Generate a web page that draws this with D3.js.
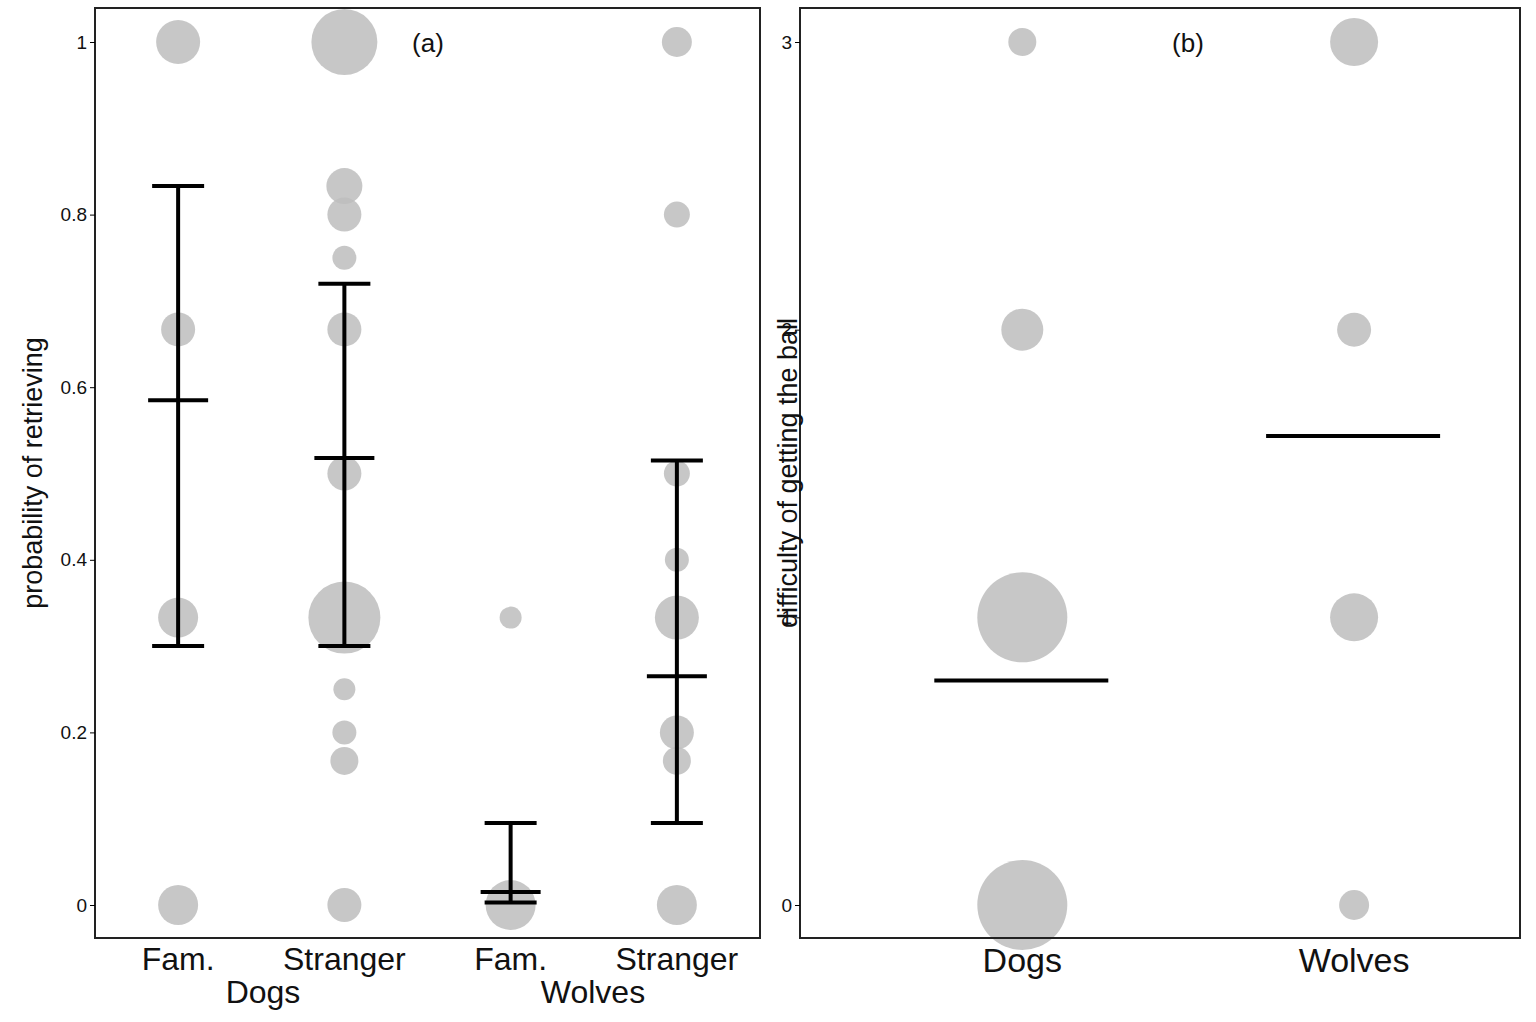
<!DOCTYPE html>
<html><head><meta charset="utf-8">
<script src="https://cdn.jsdelivr.net/npm/d3@7"></script>
<style>body{margin:0;background:#fff}text{font-family:"Liberation Sans",Arial,sans-serif;fill:#111}</style>
</head><body><svg id="c" width="1536" height="1022"></svg>
<script>
// Panel (a)
const catsA = ["DogFam","DogStr","WolfFam","WolfStr"];
const tickLabelsA = ["Fam.","Stranger","Fam.","Stranger"];
const groupLabelsA = ["Dogs","Wolves"];
const pointsA = [
 ["DogFam",1,22],["DogFam",0.667,17],["DogFam",0.333,20],["DogFam",0,20],
 ["DogStr",1,33],["DogStr",0.833,18],["DogStr",0.8,17],["DogStr",0.75,12],["DogStr",0.667,17],["DogStr",0.5,17],["DogStr",0.333,36],["DogStr",0.25,11],["DogStr",0.2,12],["DogStr",0.167,14],["DogStr",0,17],
 ["WolfFam",0.333,11],["WolfFam",0,25],
 ["WolfStr",1,15],["WolfStr",0.8,13],["WolfStr",0.5,13],["WolfStr",0.4,12],["WolfStr",0.333,22],["WolfStr",0.2,17],["WolfStr",0.167,14],["WolfStr",0,20]
];
const meansA = [0.585,0.518,0.015,0.265];
const lowA = [0.30,0.30,0.003,0.095];
const highA = [0.833,0.72,0.095,0.515];
const ticksA = [0,0.2,0.4,0.6,0.8,1];
// Panel (b)
const catsB = ["Dogs","Wolves"];
const pointsB = [["Dogs",3,14],["Dogs",2,21],["Dogs",1,45],["Dogs",0,45],
 ["Wolves",3,24],["Wolves",2,17],["Wolves",1,24],["Wolves",0,15]];
const meansB = [0.78,1.63];
const ticksB = [0,1,2,3];

const svg = d3.select("#c");
const plotTop=8, plotBot=938;
const ptFill="#bdbdbd";

const xA = d3.scaleBand().domain(catsA).range([95,760]);
const yA = d3.scaleLinear().domain([0,1]).range([905,42]);
const gA = svg.append("g");
gA.selectAll("circle").data(pointsA).join("circle")
 .attr("cx",d=>xA(d[0])+xA.bandwidth()/2).attr("cy",d=>yA(d[1])).attr("r",d=>d[2])
 .attr("fill",ptFill).attr("fill-opacity",0.85);
catsA.forEach((c,i)=>{
 const cx=xA(c)+xA.bandwidth()/2;
 gA.append("line").attr("x1",cx).attr("x2",cx).attr("y1",yA(lowA[i])).attr("y2",yA(highA[i])).attr("stroke","#000").attr("stroke-width",4);
 [lowA[i],highA[i]].forEach(v=>gA.append("line").attr("x1",cx-26).attr("x2",cx+26).attr("y1",yA(v)).attr("y2",yA(v)).attr("stroke","#000").attr("stroke-width",4));
 gA.append("line").attr("x1",cx-30).attr("x2",cx+30).attr("y1",yA(meansA[i])).attr("y2",yA(meansA[i])).attr("stroke","#000").attr("stroke-width",4);
 gA.append("text").attr("x",cx).attr("y",970).attr("text-anchor","middle").attr("font-size",32).text(tickLabelsA[i]);
});
gA.append("text").attr("x",263).attr("y",1003).attr("text-anchor","middle").attr("font-size",32).text(groupLabelsA[0]);
gA.append("text").attr("x",593).attr("y",1003).attr("text-anchor","middle").attr("font-size",32).text(groupLabelsA[1]);
gA.append("rect").attr("x",95).attr("y",plotTop).attr("width",665).attr("height",plotBot-plotTop).attr("fill","none").attr("stroke","#222").attr("stroke-width",2);
const axA = gA.append("g").attr("transform","translate(95,0)").call(d3.axisLeft(yA).tickValues(ticksA).tickFormat(d3.format("~g")).tickSize(5).tickSizeOuter(0));
axA.select(".domain").remove();
axA.selectAll("text").attr("font-size",19).attr("fill","#222");
gA.append("text").attr("transform","translate(42,473) rotate(-90)").attr("text-anchor","middle").attr("font-size",27).text("probability of retrieving");
gA.append("text").attr("x",428).attr("y",52).attr("text-anchor","middle").attr("font-size",26).text("(a)");

const xB = d3.scaleLinear().domain([-0.67,1.5]).range([800,1520]);
const xiB = c=>xB(catsB.indexOf(c));
const yB = d3.scaleLinear().domain([0,3]).range([905,42]);
const gB = svg.append("g");
gB.selectAll("circle").data(pointsB).join("circle")
 .attr("cx",d=>xiB(d[0])).attr("cy",d=>yB(d[1])).attr("r",d=>d[2])
 .attr("fill",ptFill).attr("fill-opacity",0.85);
catsB.forEach((c,i)=>{
 const cx=xiB(c);
 gB.append("line").attr("x1",cx-88).attr("x2",cx+86).attr("y1",yB(meansB[i])).attr("y2",yB(meansB[i])).attr("stroke","#000").attr("stroke-width",4);
 gB.append("text").attr("x",cx).attr("y",972).attr("text-anchor","middle").attr("font-size",34).text(c);
});
gB.append("rect").attr("x",800).attr("y",plotTop).attr("width",720).attr("height",plotBot-plotTop).attr("fill","none").attr("stroke","#222").attr("stroke-width",2);
const axB = gB.append("g").attr("transform","translate(800,0)").call(d3.axisLeft(yB).tickValues(ticksB).tickFormat(d3.format("d")).tickSize(5).tickSizeOuter(0));
axB.select(".domain").remove();
axB.selectAll("text").attr("font-size",19).attr("fill","#222");
gB.append("text").attr("transform","translate(797,473) rotate(-90)").attr("text-anchor","middle").attr("font-size",27).text("difficulty of getting the ball");
gB.append("text").attr("x",1188).attr("y",52).attr("text-anchor","middle").attr("font-size",26).text("(b)");
</script></body></html>
